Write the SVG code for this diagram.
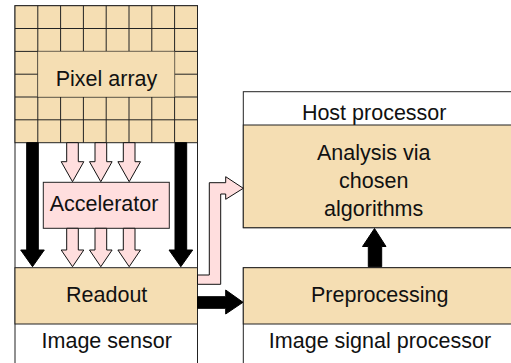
<svg xmlns="http://www.w3.org/2000/svg" width="511" height="363" viewBox="0 0 511 363">
<style>
text{font-family:"Liberation Sans",Arial,Helvetica,sans-serif;font-size:21.5px;fill:#111;text-anchor:middle}
.box{fill:#fff;stroke:#222;stroke-width:1}
.tan{fill:#f5deb3;stroke:#222;stroke-width:1}
.grid{stroke:#222;stroke-width:1;fill:none}
.pink{fill:#ffdede;stroke:#111;stroke-width:1;stroke-linejoin:miter}
.blk{fill:#000;stroke:#000;stroke-width:1}
</style>
<rect width="511" height="363" fill="#fff"/>
<g id="image-sensor">
<rect class="box" x="15" y="5.7" width="182.5" height="370"/>
<text x="106.7" y="348.3">Image sensor</text>
</g>
<g id="pixel-array">
<rect class="tan" x="15" y="5.7" width="182.5" height="137"/>
<path class="grid" d="M37.8 5.7V142.7M60.6 5.7V142.7M83.4 5.7V142.7M106.2 5.7V142.7M129 5.7V142.7M151.8 5.7V142.7M174.6 5.7V142.7M15 28.5H197.5M15 51.4H197.5M15 74.2H197.5M15 97H197.5M15 119.8H197.5"/>
<rect x="37.8" y="51.4" width="136.8" height="45.6" fill="#f5deb3" stroke="#000" stroke-opacity="0.25"/>
<text x="106.5" y="86">Pixel array</text>
</g>
<g id="accelerator">
<rect x="43.3" y="182.3" width="126" height="46" fill="#ffdede" stroke="#222"/>
<text x="104" y="211">Accelerator</text>
</g>
<g id="readout">
<rect class="tan" x="15" y="267.7" width="182.5" height="56.3"/>
<text x="106.7" y="301.7">Readout</text>
</g>
<g id="host-processor">
<rect class="box" x="243.3" y="91.7" width="280" height="136"/>
<text x="374.2" y="120">Host processor</text>
</g>
<g id="analysis">
<rect class="tan" x="243.3" y="125" width="280" height="102.7"/>
<text x="373.7" y="160">Analysis via</text>
<text x="373.7" y="188.3">chosen</text>
<text x="373.7" y="216">algorithms</text>
</g>
<g id="image-signal-processor">
<rect class="box" x="243.3" y="267.7" width="280" height="110"/>
<text x="380" y="348.3">Image signal processor</text>
</g>
<g id="preprocessing">
<rect class="tan" x="243.3" y="267.7" width="280" height="56.3"/>
<text x="379.7" y="302.3">Preprocessing</text>
</g>
<g id="connectors">
<polygon class="blk" points="26.7,142.7 38.3,142.7 38.3,250 44.3,250 32.5,266.7 20.7,250 26.7,250"/>
<polygon class="blk" points="175,142.7 186.7,142.7 186.7,250 192.7,250 180.8,266.7 169,250 175,250"/>
<polygon class="pink" points="66.7,142.7 78.3,142.7 78.3,161.7 83.8,161.7 72.5,181.7 61.2,161.7 66.7,161.7"/>
<polygon class="pink" points="95,142.7 106.7,142.7 106.7,161.7 112.1,161.7 100.8,181.7 89.5,161.7 95,161.7"/>
<polygon class="pink" points="123.3,142.7 135,142.7 135,161.7 140.5,161.7 129.2,181.7 117.9,161.7 123.3,161.7"/>
<polygon class="pink" points="66.7,228.3 78.3,228.3 78.3,250 83.8,250 72.5,266.7 61.2,250 66.7,250"/>
<polygon class="pink" points="95,228.3 106.7,228.3 106.7,250 112.1,250 100.8,266.7 89.5,250 95,250"/>
<polygon class="pink" points="123.3,228.3 135,228.3 135,250 140.5,250 129.2,266.7 117.9,250 123.3,250"/>
<polygon class="pink" points="197.5,275 209.3,275 209.3,182.7 225.7,182.7 225.7,176.7 243.3,188.3 225.7,199.3 225.7,194 220.7,194 220.7,284.3 197.5,284.3"/>
<polygon class="blk" points="197.5,296.7 225.7,296.7 225.7,290 243,302.3 225.7,314 225.7,308.3 197.5,308.3"/>
<polygon class="blk" points="368.3,266.7 381.7,266.7 381.7,246.5 386,246.5 374.5,228.5 362.5,246.5 368.3,246.5"/>
</g>
</svg>
